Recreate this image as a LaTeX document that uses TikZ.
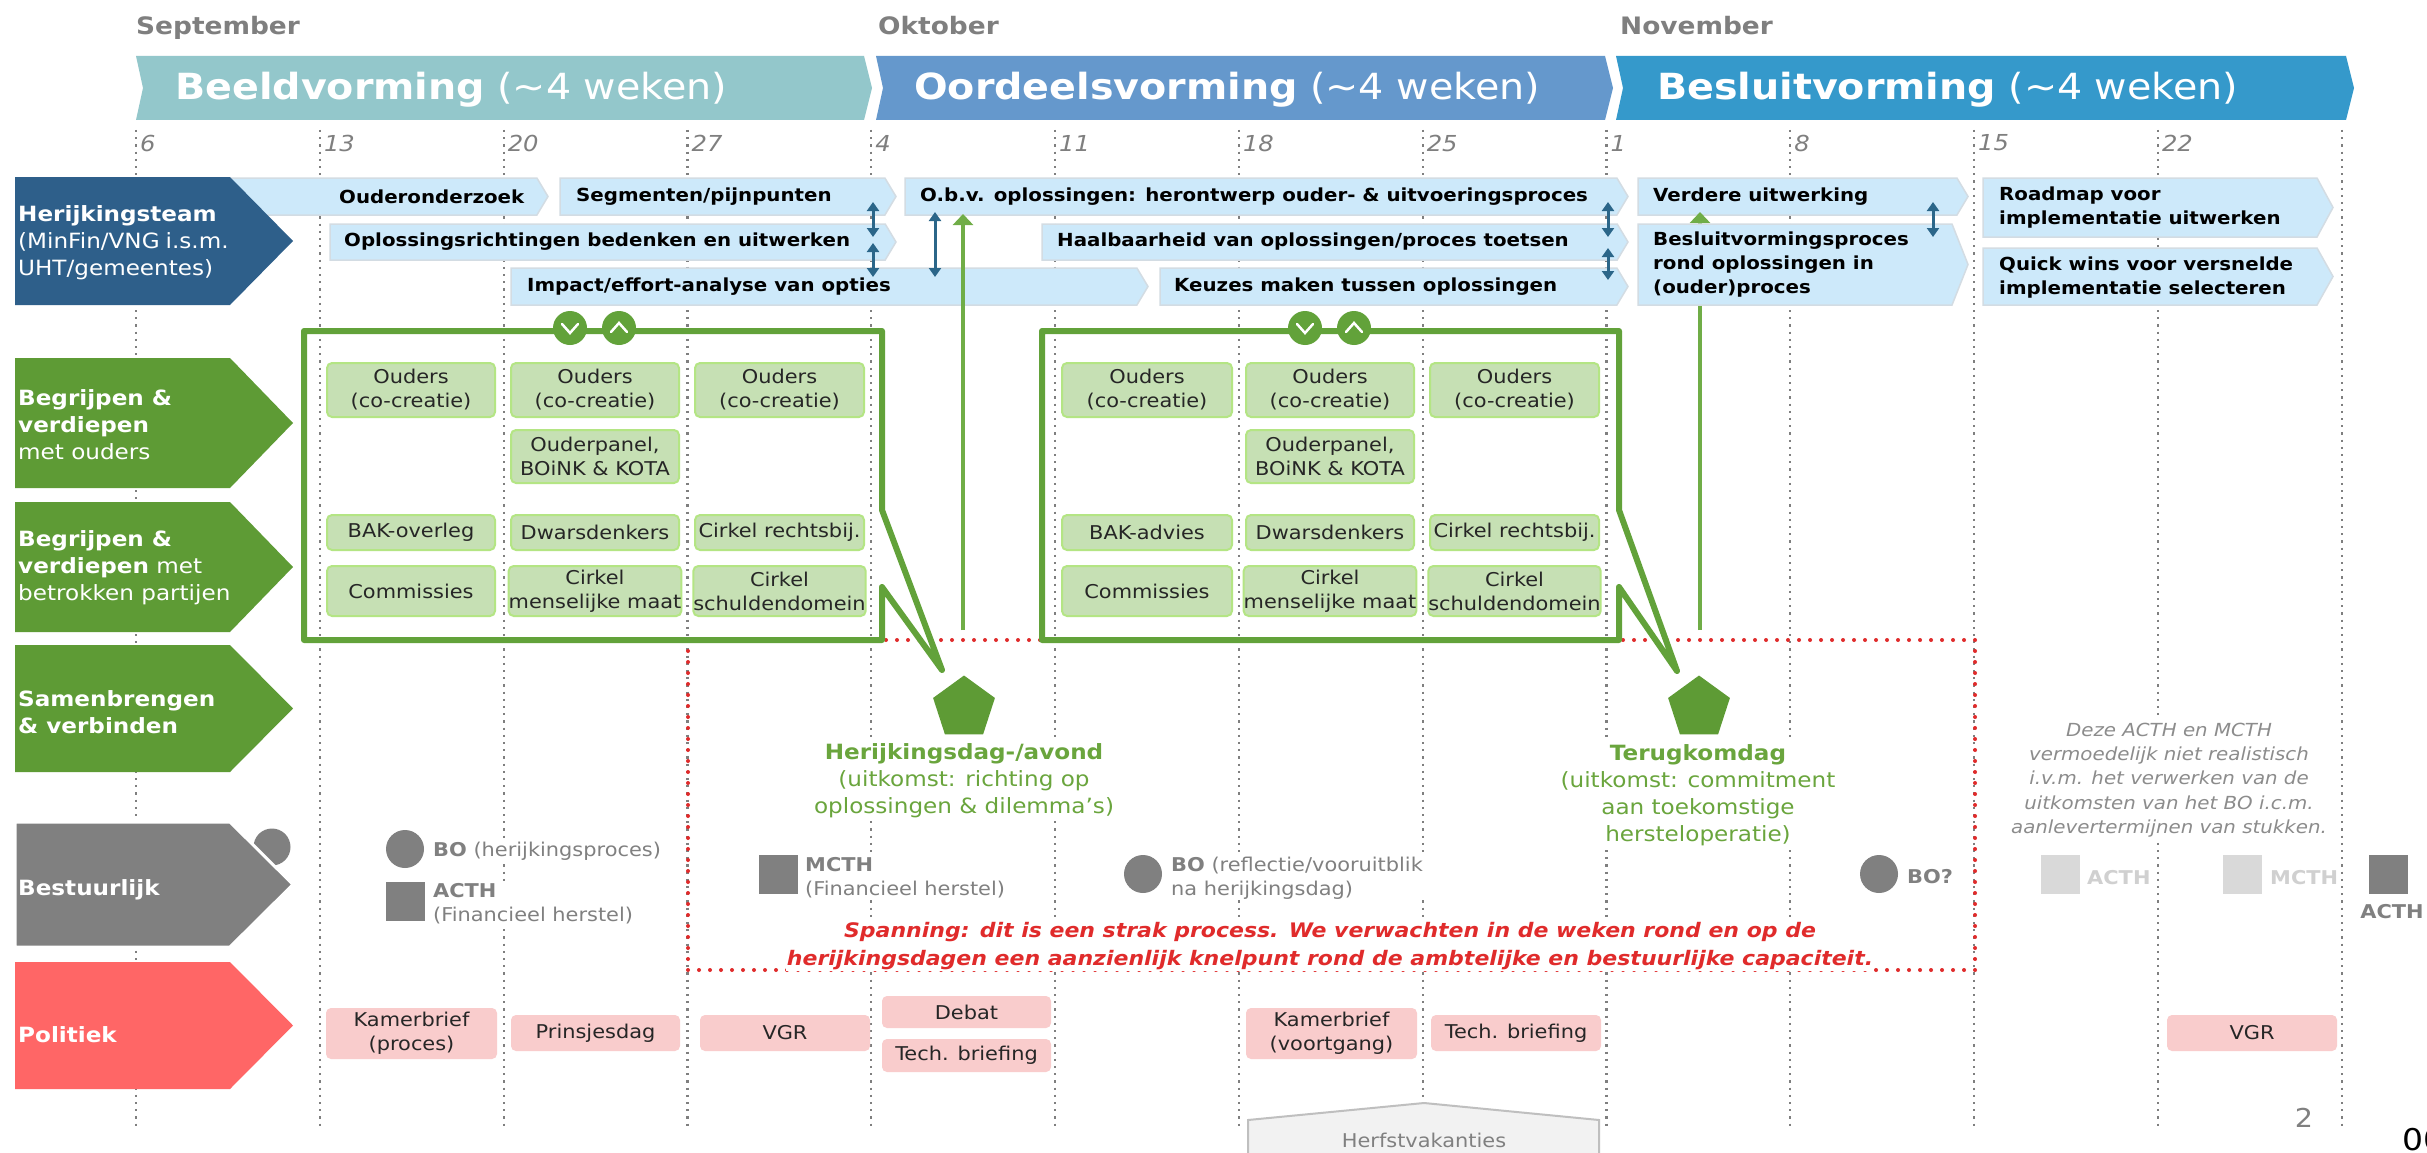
\documentclass[tikz,border=0pt]{standalone}
\usepackage{fontspec}
\setmainfont{DejaVu Sans}[FakeStretch=1.1]
\usetikzlibrary{arrows.meta,shapes.geometric}
\definecolor{wkgrey}{HTML}{7F7F7F}
\definecolor{ban1}{HTML}{93C7CB}
\definecolor{ban2}{HTML}{6598CC}
\definecolor{ban3}{HTML}{3599CB}
\definecolor{barblue}{HTML}{CDE9FA}
\definecolor{barline}{HTML}{D3DCE3}
\definecolor{navy}{HTML}{2E5F8A}
\definecolor{lgreen}{HTML}{5E9B35}
\definecolor{fgreen}{HTML}{62A23A}
\definecolor{agreen}{HTML}{70AD47}
\definecolor{tgreen}{HTML}{6AA53D}
\definecolor{gboxfill}{HTML}{C6E0B4}
\definecolor{gboxline}{HTML}{B4E584}
\definecolor{dblue}{HTML}{2B6689}
\definecolor{mgrey}{HTML}{808080}
\definecolor{lgrey}{HTML}{D9D9D9}
\definecolor{ltext}{HTML}{D0D0D0}
\definecolor{polred}{HTML}{FF6666}
\definecolor{pinkfill}{HTML}{F9CCCC}
\definecolor{redtxt}{HTML}{E02B2B}
\definecolor{notegrey}{HTML}{8C8C8C}
\definecolor{hvfill}{HTML}{F2F2F2}
\definecolor{hvline}{HTML}{BFBFBF}
\newcommand\fsz[2]{\fontsize{#1}{#2}\selectfont}
\newcommand\hbarshape[4]{%
 \pgfmathsetmacro\dd{min(16,0.3*(#4-#2))}%
 \pgfmathsetmacro\ym{(#2+#4)/2}%
 \filldraw[fill=barblue, draw=barline, line width=1.5pt] (#1,#2) -- ({#3-\dd},#2) -- (#3,\ym) -- ({#3-\dd},#4) -- (#1,#4) -- cycle;}
\newcommand\bannershape[3]{%
 \fill[#1] (#2,56) -- ({#3-8},56) -- (#3,88) -- ({#3-8},120) -- (#2,120) -- ({#2+7},88) -- cycle;}
\newcommand\lblshape[4][]{%
 \fill[#2,#1] (15,#3) -- (230,#3) -- (293,{(#3+#4)/2}) -- (230,#4) -- (15,#4) -- cycle;}
\tikzset{
 wk/.style={draw=wkgrey, line width=2.2pt, dash pattern=on 2.2pt off 5pt},
 wknum/.style={font=\fsz{22}{26}\itshape, text=wkgrey, anchor=west, inner sep=0pt},
 month/.style={font=\fsz{24}{28}\bfseries, text=wkgrey, anchor=base west, inner sep=0pt},
 bantxt/.style={font=\fsz{36}{40}, text=white, anchor=base west, inner sep=0pt},
 bartxt/.style={font=\fsz{18}{24}\bfseries, text=black, anchor=west, align=left, inner sep=0pt},
 lbltxt/.style={font=\fsz{21}{27}, text=white, anchor=west, align=left, inner sep=0pt},
 gbox/.style={draw=gboxline, fill=gboxfill, line width=2pt, rounded corners=5pt, align=center, font=\fsz{19}{24}, inner sep=0pt, text=black!85},
 pbox/.style={fill=pinkfill, rounded corners=5pt, align=center, font=\fsz{19}{24}, inner sep=0pt, text=black!85},
 gframe/.style={draw=fgreen, line width=6pt, line join=round},
 gcirc/.style={circle, fill=fgreen, minimum size=34pt, inner sep=0pt},
 chev/.style={draw=white, line width=2.5pt, line cap=round},
 pent/.style={regular polygon, regular polygon sides=5, fill=lgreen, minimum size=65pt, inner sep=0pt},
 ptxt/.style={align=center, font=\fsz{21}{27}, text=tgreen, fill=white, inner sep=2pt},
 reddot/.style={draw=redtxt, line width=4pt, dash pattern=on 0pt off 11pt, line cap=round},
 darr/.style={draw=dblue, line width=3pt, arrows={Triangle[width=12pt,length=9pt]-Triangle[width=12pt,length=9pt]}},
 garr/.style={draw=agreen, line width=4pt, arrows={-Triangle[width=20pt,length=11pt]}},
 btxt/.style={font=\fsz{19}{24}, text=mgrey, anchor=west, align=left, inner sep=1pt, fill=white},
 bcirc/.style={circle, fill=mgrey, minimum size=38pt, inner sep=0pt},
 bsq/.style={rectangle, fill=mgrey, minimum size=39pt, inner sep=0pt},
 redt/.style={font=\fsz{20}{28}\bfseries\itshape, text=redtxt, align=center, fill=white, inner sep=1pt},
 notetxt/.style={font=\fsz{18}{24.3}\itshape, text=notegrey, align=center, fill=white, inner sep=4pt},
}
\begin{document}
\begin{tikzpicture}[x=1pt,y=-1pt]
\useasboundingbox (0,0) rectangle (2427,1153);
\fill[white] (0,0) rectangle (2427,1153);

% week lines and numbers
\foreach \i/\n in {0/6,1/13,2/20,3/27,4/4,5/11,6/18,7/25,8/1,9/8,10/15,11/22} {
  \pgfmathsetmacro\xx{136+183.8*\i}
  \draw[wk] (\xx,130) -- (\xx,1126);
  \node[wknum] (wn\i) at (\xx+4,143) {\n};
}
\draw[wk] (2341.6,130) -- (2341.6,1126);

% months
\node[month] (mS) at (136,35) {September};
\node[month] (mO) at (878,35) {Oktober};
\node[month] (mN) at (1620,35) {November};

% banners
\bannershape{ban1}{136}{872}
\bannershape{ban2}{876}{1613}
\bannershape{ban3}{1616}{2354}
\node[bantxt] (bB) at (175,100) {\textbf{Beeldvorming} (\textasciitilde4 weken)};
\node[bantxt] (bO) at (914,100) {\textbf{Oordeelsvorming} (\textasciitilde4 weken)};
\node[bantxt] (bE) at (1657,100) {\textbf{Besluitvorming} (\textasciitilde4 weken)};

% red dotted area
\draw[reddot] (688,640) rectangle (1975,970);

% bars
\hbarshape{230}{178}{548}{215}
\hbarshape{560}{178}{896}{215}
\hbarshape{905}{178}{1628}{215}
\hbarshape{1638}{178}{1968}{215}
\hbarshape{1983}{178}{2333}{237}
\hbarshape{330}{224}{896}{260}
\hbarshape{1042}{224}{1628}{260}
\hbarshape{1983}{248}{2333}{305}
\hbarshape{511}{268}{1148}{305}
\hbarshape{1160}{268}{1628}{305}

% green arrow 2 (passes under the Besluitvormingsproces bar)
\coordinate (g2s) at (1700,630);
\coordinate (g2e) at (1700,212);
\draw[garr] (g2s) -- (g2e);
\hbarshape{1638}{224}{1968}{305}

\node[bartxt] (t1) at (339,197) {Ouderonderzoek};
\node[bartxt] (t2) at (576,197) {Segmenten/pijnpunten};
\node[bartxt] (t3) at (920,197) {O.b.v. oplossingen: herontwerp ouder- \& uitvoeringsproces};
\node[bartxt] (t4) at (1653,197) {Verdere uitwerking};
\node[bartxt] (t5) at (1999,208) {Roadmap voor\\implementatie uitwerken};
\node[bartxt] (t6) at (344,242) {Oplossingsrichtingen bedenken en uitwerken};
\node[bartxt] (t7) at (1057,242) {Haalbaarheid van oplossingen/proces toetsen};
\node[bartxt] (t8) at (1653,265) {Besluitvormingsproces\\rond oplossingen in\\(ouder)proces};
\node[bartxt] (t9) at (1999,278) {Quick wins voor versnelde\\implementatie selecteren};
\node[bartxt] (t10) at (527,287) {Impact/effort-analyse van opties};
\node[bartxt] (t11) at (1174,287) {Keuzes maken tussen oplossingen};

% double arrows
\coordinate (d1a) at (873,202); \coordinate (d1b) at (873,237);
\coordinate (d1c) at (873,243); \coordinate (d1d) at (873,277);
\coordinate (d2a) at (935,212); \coordinate (d2b) at (935,277);
\coordinate (d3a) at (1608,202); \coordinate (d3b) at (1608,237);
\coordinate (d3c) at (1608,248); \coordinate (d3d) at (1608,280);
\coordinate (d4a) at (1933,202); \coordinate (d4b) at (1933,237);
\draw[darr] (d1a) -- (d1b);
\draw[darr] (d1c) -- (d1d);
\draw[darr] (d2a) -- (d2b);
\draw[darr] (d3a) -- (d3b);
\draw[darr] (d3c) -- (d3d);
\draw[darr] (d4a) -- (d4b);

% green arrow 1
\coordinate (g1s) at (963,630);
\coordinate (g1e) at (963,214);
\draw[garr] (g1s) -- (g1e);

% left labels
\node[bcirc, minimum size=37pt] (bx) at (272,847) {};
\lblshape{navy}{177}{305}
\lblshape{lgreen}{358}{488}
\lblshape{lgreen}{502}{632}
\lblshape{lgreen}{645}{772}
\lblshape[draw=white, line width=3pt]{mgrey}{822}{947}
\lblshape{polred}{962}{1089}
\node[lbltxt] (L1) at (18,243) {\textbf{Herijkingsteam}\\(MinFin/VNG\hspace{6pt}i.s.m.\\UHT/gemeentes)};
\node[lbltxt] (L2) at (18,425) {\textbf{Begrijpen \&}\\\textbf{verdiepen}\\met ouders};
\node[lbltxt] (L3) at (18,568) {\textbf{Begrijpen \&}\\\textbf{verdiepen} met\\betrokken partijen};
\node[lbltxt] (L4) at (18,712) {\textbf{Samenbrengen}\\\textbf{\& verbinden}};
\node[lbltxt] (L5) at (18,890) {\textbf{Bestuurlijk}};
\node[lbltxt] (L6) at (18,1035) {\textbf{Politiek}};

% green frames
\draw[gframe] (304,331) -- (882,331) -- (882,510) -- (942,670) -- (882,587) -- (882,640) -- (304,640) -- cycle;
\draw[gframe] (1042,331) -- (1619,331) -- (1619,510) -- (1677,671) -- (1619,587) -- (1619,640) -- (1042,640) -- cycle;
\node[gcirc] (c1) at (570,328) {};
\node[gcirc] (c2) at (619,328) {};
\node[gcirc] (c3) at (1305,328) {};
\node[gcirc] (c4) at (1354,328) {};
\draw[chev] (c1) ++(-8,-4) -- ++(8,9) -- ++(8,-9);
\draw[chev] (c2) ++(-8,4) -- ++(8,-9) -- ++(8,9);
\draw[chev] (c3) ++(-8,-4) -- ++(8,9) -- ++(8,-9);
\draw[chev] (c4) ++(-8,4) -- ++(8,-9) -- ++(8,9);

% green boxes frame 1
\node[gbox, minimum width=168pt, minimum height=54pt] (a11) at (411,390) {Ouders\\(co-creatie)};
\node[gbox, minimum width=168pt, minimum height=54pt] (a12) at (595,390) {Ouders\\(co-creatie)};
\node[gbox, minimum width=169pt, minimum height=54pt] (a13) at (779.5,390) {Ouders\\(co-creatie)};
\node[gbox, minimum width=168pt, minimum height=53pt] (a22) at (595,456.5) {Ouderpanel,\\BOiNK \& KOTA};
\node[gbox, minimum width=168pt, minimum height=35pt] (a31) at (411,532.5) {BAK-overleg};
\node[gbox, minimum width=168pt, minimum height=35pt] (a32) at (595,532.5) {Dwarsdenkers};
\node[gbox, minimum width=169pt, minimum height=35pt] (a33) at (779.5,532.5) {Cirkel rechtsbij.};
\node[gbox, minimum width=168pt, minimum height=50pt] (a41) at (411,591) {Commissies};
\node[gbox, minimum width=168pt, minimum height=50pt] (a42) at (595,591) {Cirkel\\menselijke maat};
\node[gbox, minimum width=169pt, minimum height=50pt] (a43) at (779.5,591) {Cirkel\\schuldendomein};
% green boxes frame 2
\node[gbox, minimum width=170pt, minimum height=54pt] (b11) at (1147,390) {Ouders\\(co-creatie)};
\node[gbox, minimum width=168pt, minimum height=54pt] (b12) at (1330,390) {Ouders\\(co-creatie)};
\node[gbox, minimum width=169pt, minimum height=54pt] (b13) at (1514.5,390) {Ouders\\(co-creatie)};
\node[gbox, minimum width=168pt, minimum height=53pt] (b22) at (1330,456.5) {Ouderpanel,\\BOiNK \& KOTA};
\node[gbox, minimum width=170pt, minimum height=35pt] (b31) at (1147,532.5) {BAK-advies};
\node[gbox, minimum width=168pt, minimum height=35pt] (b32) at (1330,532.5) {Dwarsdenkers};
\node[gbox, minimum width=169pt, minimum height=35pt] (b33) at (1514.5,532.5) {Cirkel rechtsbij.};
\node[gbox, minimum width=170pt, minimum height=50pt] (b41) at (1147,591) {Commissies};
\node[gbox, minimum width=168pt, minimum height=50pt] (b42) at (1330,591) {Cirkel\\menselijke maat};
\node[gbox, minimum width=169pt, minimum height=50pt] (b43) at (1514.5,591) {Cirkel\\schuldendomein};

% pentagons and labels
\node[pent] (p1) at (964,708) {};
\node[pent] (p2) at (1699,708) {};
\node[ptxt] (h1) at (964,781) {\textbf{Herijkingsdag-/avond}\\(uitkomst: richting op\\oplossingen \& dilemma's)};
\node[ptxt] (h2) at (1698,795) {\textbf{Terugkomdag}\\(uitkomst: commitment\\aan toekomstige\\hersteloperatie)};

% bestuurlijk
\node[bcirc] (bo1) at (405,849) {};
\node[btxt] (bo1t) at (432,851) {\textbf{BO} (herijkingsproces)};
\node[bsq] (ac1) at (405.5,901) {};
\node[btxt] (ac1t) at (432,904) {\textbf{ACTH}\\(Financieel herstel)};
\node[bsq] (mc1) at (778.5,874.5) {};
\node[btxt] (mc1t) at (804,878) {\textbf{MCTH}\\(Financieel herstel)};
\node[bcirc] (bo2) at (1143,874) {};
\node[btxt] (bo2t) at (1170,878) {\textbf{BO} (reflectie/vooruitblik\\na herijkingsdag)};
\node[bcirc] (bo3) at (1879,874) {};
\node[btxt] (bo3t) at (1906,877) {\textbf{BO?}};
\node[bsq, fill=lgrey] (ac2) at (2060.5,874.5) {};
\node[btxt, text=ltext] (ac2t) at (2086,878) {\textbf{ACTH}};
\node[bsq, fill=lgrey] (mc2) at (2242.5,874.5) {};
\node[btxt, text=ltext] (mc2t) at (2269,878) {\textbf{MCTH}};
\node[bsq] (ac3) at (2388,874.5) {};
\node[font=\fsz{19}{24}\bfseries, text=mgrey, inner sep=0pt] (ac3t) at (2392,912) {ACTH};
\node[notetxt] (nt) at (2169,780) {Deze ACTH en MCTH\\vermoedelijk niet realistisch\\i.v.m. het verwerken van de\\uitkomsten van het BO i.c.m.\\aanlevertermijnen van stukken.};

% red text
\node[redt] (sp) at (1330,946) {Spanning: dit is een strak process. We verwachten in de weken rond en op de\\herijkingsdagen een aanzienlijk knelpunt rond de ambtelijke en bestuurlijke capaciteit.};

% politiek
\node[pbox, minimum width=171pt, minimum height=51pt] (k1) at (411.5,1033.5) {Kamerbrief\\(proces)};
\node[pbox, minimum width=169pt, minimum height=36pt] (k2) at (595.5,1033) {Prinsjesdag};
\node[pbox, minimum width=170pt, minimum height=36pt] (k3) at (785,1033) {VGR};
\node[pbox, minimum width=169pt, minimum height=32pt] (k4) at (966.5,1012) {Debat};
\node[pbox, minimum width=169pt, minimum height=33pt] (k5) at (966.5,1055.5) {Tech. briefing};
\node[pbox, minimum width=171pt, minimum height=51pt] (k6) at (1331.5,1033.5) {Kamerbrief\\(voortgang)};
\node[pbox, minimum width=170pt, minimum height=36pt] (k7) at (1516,1033) {Tech. briefing};
\node[pbox, minimum width=170pt, minimum height=36pt] (k8) at (2252,1033) {VGR};

% herfstvakanties
\filldraw[fill=hvfill, draw=hvline, line width=2pt] (1248,1120) -- (1424,1103) -- (1599,1120) -- (1599,1165) -- (1248,1165) -- cycle;
\node[font=\fsz{19}{24}, text=mgrey] (hv) at (1424,1140) {Herfstvakanties};

% page numbers
\node[font=\fsz{26}{30}, text=mgrey] (pg) at (2304,1118) {2};
\node[font=\fsz{30}{34}, text=black, anchor=west, inner sep=0pt] (oo) at (2402,1140) {00};
\end{tikzpicture}
\end{document}
